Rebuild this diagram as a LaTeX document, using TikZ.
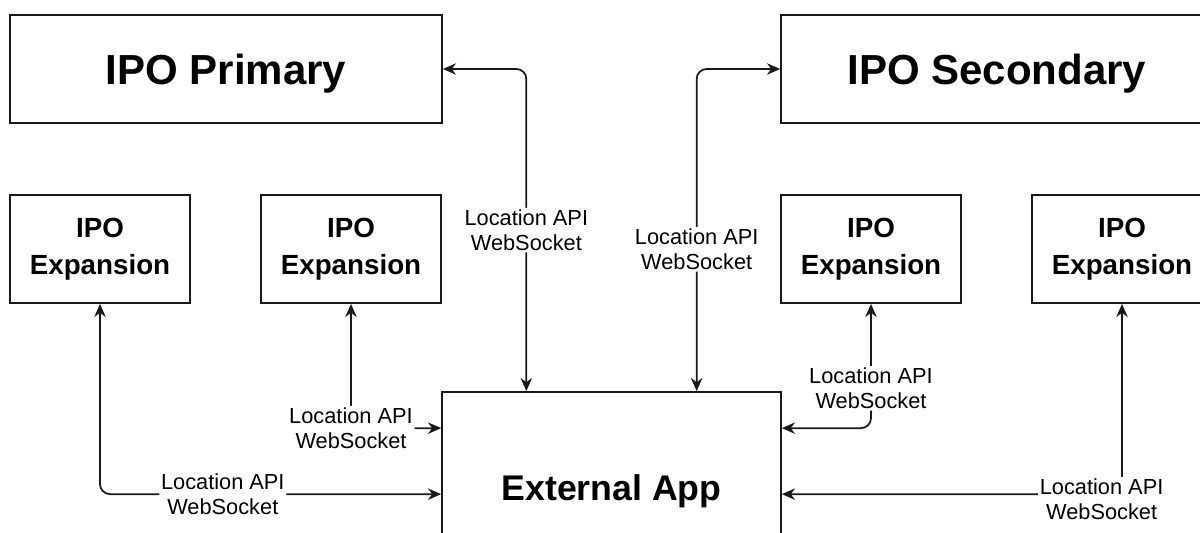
\documentclass[tikz,border=0pt]{standalone}
\usepackage{fontspec}
\setmainfont{Liberation Sans}
\usetikzlibrary{arrows.meta,calc}

\begin{document}
\begin{tikzpicture}[x=0.02cm,y=-0.02cm,
  box/.style={draw=black!90, line width=1pt, align=center},
  mainbox/.style={box, minimum width=8.64cm, minimum height=2.16cm,
    text depth=0pt, font=\fontsize{23.9}{28}\selectfont\bfseries},
  expbox/.style={box, minimum width=3.6cm, minimum height=2.16cm,
    font=\fontsize{15.8}{21}\selectfont\bfseries},
  appbox/.style={box, minimum width=6.78cm, minimum height=3.84cm,
    text depth=0pt, font=\fontsize{20.3}{24}\selectfont\bfseries},
  link/.style={draw=black!90, line width=1pt, rounded corners=0.2cm,
    {Stealth[length=7.5pt,width=6.5pt]}-{Stealth[length=7.5pt,width=6.5pt]}},
  lbl/.style={fill=white, align=center, inner sep=1pt,
    font=\fontsize{12.4}{14.2}\selectfont}
]
  % Fix the picture size to the reference frame
  \useasboundingbox (0,0) rectangle (1200,533);
  \clip (0,0) rectangle (1200,533);

  % Top row: primary and secondary
  \node[mainbox] (prim) at (226, 69) {IPO Primary};
  \node[mainbox] (sec) at (997, 69) {IPO Secondary};

  % Middle row: expansion units
  \node[expbox] (exp1) at (100, 249) {IPO\\Expansion};
  \node[expbox] (exp2) at (351, 249) {IPO\\Expansion};
  \node[expbox] (exp3) at (871, 249) {IPO\\Expansion};
  \node[expbox] (exp4) at (1122, 249) {IPO\\Expansion};

  % Bottom: the external app (runs past the lower edge)
  \node[appbox] (ext) at (611.5, 488) {External App};

  % Attachment points on the external app
  \coordinate (topL) at ($(ext.north west)!0.25!(ext.north east)$);
  \coordinate (topR) at ($(ext.north west)!0.75!(ext.north east)$);
  \coordinate (westA) at ($(ext.north west)+(0,37)$);
  \coordinate (westB) at ($(ext.north west)+(0,103)$);
  \coordinate (eastA) at ($(ext.north east)+(0,37)$);
  \coordinate (eastB) at ($(ext.north east)+(0,103)$);

  % Connectors
  \draw[link] (prim.east) -| (topL)
    node[lbl, pos=0.75] {Location API\\WebSocket};
  \draw[link] (topR) |- (sec.west)
    node[lbl, pos=0.22] {Location API\\WebSocket};
  \draw[link] (exp2.south) |- (westA)
    node[lbl, pos=0.5] {Location API\\WebSocket};
  \draw[link] (exp1.south) |- (westB)
    node[lbl, pos=0.68] {Location API\\WebSocket};
  \draw[link] (exp3.south) |- (eastA)
    node[lbl, pos=0.34] {Location API\\WebSocket};
  \draw[link] (exp4.south) |- (eastB)
    node[lbl, pos=0.53, yshift=-3pt] {Location API\\WebSocket};

\end{tikzpicture}
\end{document}
